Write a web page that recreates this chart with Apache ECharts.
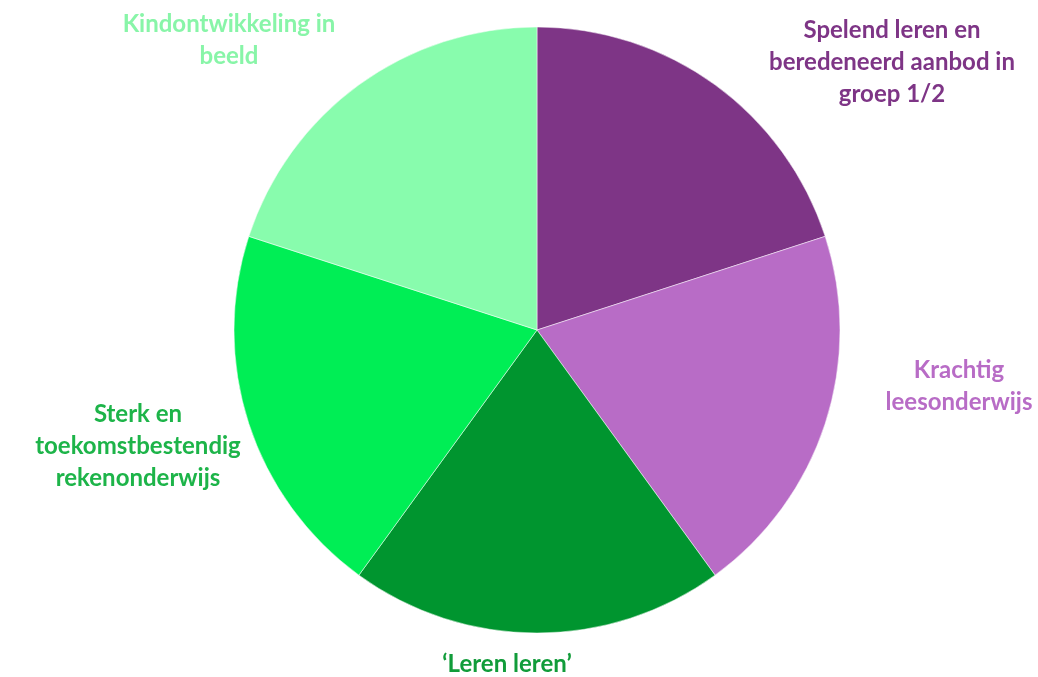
<!DOCTYPE html>
<html><head><meta charset="utf-8">
<script src="https://cdn.jsdelivr.net/npm/echarts@6/dist/echarts.min.js"></script>
<style>html,body{margin:0;padding:0;background:#fff}#c{width:1038px;height:677px}</style>
</head><body><div id="c"></div>
<script>
const categories = ["Spelend leren en\nberedeneerd aanbod in\ngroep 1/2", "Krachtig\nleesonderwijs", "‘Leren leren’", "Sterk en\ntoekomstbestendig\nrekenonderwijs", "Kindontwikkeling in\nbeeld"];
const values = [20, 20, 20, 20, 20];
const sliceColors = ["#7E3586", "#B86CC6", "#00952F", "#00EE55", "#88FCAD"];
const labelColors = ["#7E3586", "#B86CC6", "#119C3A", "#1DB449", "#88F5A8"];
const labelPos = [[892, 62], [959, 386], [507, 664], [138, 446], [229, 40]];

const chart = echarts.init(document.getElementById('c'), null, {renderer: 'canvas'});
chart.setOption({
  animation: false,
  backgroundColor: '#ffffff',
  series: [{
    type: 'pie',
    center: [537, 330],
    radius: [0, 303],
    startAngle: 90,
    clockwise: true,
    data: categories.map((n, i) => ({
      name: n, value: values[i],
      itemStyle: {color: sliceColors[i]},
      label: {color: labelColors[i]}
    })),
    itemStyle: {borderColor: '#ffffff', borderWidth: 0.5},
    label: {
      show: true, position: 'outside',
      formatter: '{b}',
      fontFamily: 'Lato', fontWeight: 'bold', fontSize: 24, lineHeight: 32,
      align: 'center', overflow: 'none', width: 300
    },
    labelLine: {show: false},
    labelLayout: function (p) {
      const pos = labelPos[p.dataIndex];
      return {x: pos[0], y: pos[1], align: 'center', verticalAlign: 'middle'};
    },
    emphasis: {disabled: true}
  }]
});
</script></body></html>
